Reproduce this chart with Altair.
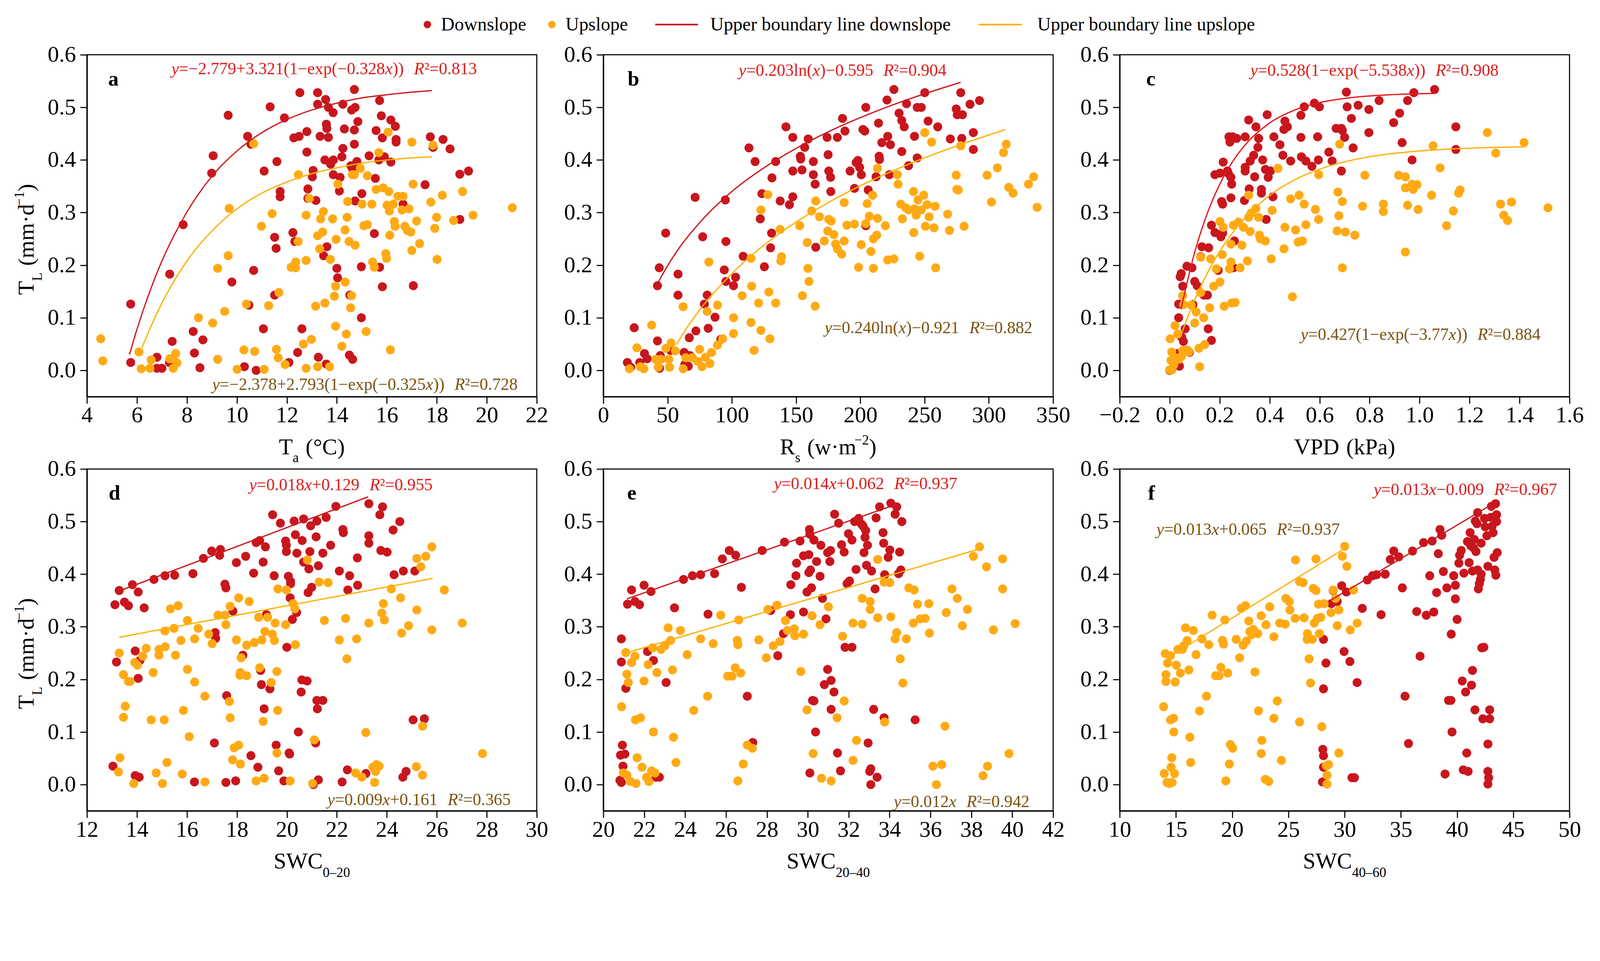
import altair as alt
import pandas as pd

FONT = "Liberation Serif"
W, H = 1250, 950
YMIN, YMAX = -0.05, 0.6

RED_PT = "#C8161D"
ORANGE_PT = "#FFAA15"
RED_LINE = "#CC1A1F"
RED_LINE_C = "#E8161B"
ORANGE_LINE = "#FFB000"
RED_TXT = "#DD1C1C"
BROWN_TXT = "#7A5512"

# ---------------- data ----------------
a_down = [(5.75,0.126),(5.75,0.015),(6.8,0.025),(6.8,0.004),(7.0,0.004),(7.3,0.015),(7.31,0.183),(7.41,0.055),
(7.85,0.277),(8.25,0.074),(8.3,0.033),(8.52,0.005),(8.64,0.058),(8.99,0.375),(9.05,0.408),(9.65,0.485),(9.8,0.168),
(10.3,0.007),(10.43,0.445),(10.56,0.430),(10.48,0.124),(10.67,0.190),(10.77,0.0),(11.06,0.079),(11.09,0.379),
(11.33,0.501),(11.51,0.253),(11.51,0.143),(11.57,0.232),(11.6,0.397),(11.73,0.340),(11.73,0.330),(11.9,0.480),
(12.08,0.015),(12.24,0.262),(12.28,0.442),(12.32,0.245),(12.43,0.034),(12.49,0.445),(12.52,0.528),(12.6,0.079),
(12.8,0.454),(12.8,0.415),(12.84,0.345),(12.84,0.327),(13.05,0.380),(13.02,0.368),(13.16,0.323),(13.23,0.528),
(13.23,0.506),(13.26,0.025),(13.33,0.445),(13.47,0.218),(13.55,0.515),(13.6,0.235),(13.58,0.012),(13.58,0.468),
(13.6,0.46),(13.66,0.443),(13.52,0.40),(13.66,0.50),(13.75,0.392),(13.85,0.49),(13.86,0.40),(13.86,0.372),
(14.0,0.194),(14.03,0.176),(14.1,0.341),(14.13,0.367),(14.2,0.406),(14.24,0.422),(14.24,0.506),(14.3,0.459),
(14.52,0.143),(14.5,0.029),(14.56,0.389),(14.59,0.495),(14.63,0.021),(14.7,0.534),(14.7,0.457),(14.7,0.430),
(14.73,0.322),(14.73,0.5),(14.8,0.397),(14.84,0.473),(14.63,0.383),(14.98,0.100),(14.98,0.197),(15.0,0.336),
(15.29,0.408),(15.5,0.260),(15.54,0.365),(15.57,0.456),(15.71,0.196),(15.71,0.513),(15.78,0.484),(15.82,0.442),
(15.82,0.159),(15.68,0.40),(15.9,0.406),(16.16,0.396),(16.16,0.476),(16.34,0.464),(16.37,0.434),(16.37,0.439),
(16.65,0.316),(17.06,0.161),(17.53,0.353),(17.74,0.444),(17.85,0.424),(18.25,0.439),(18.53,0.421),(18.92,0.373),
(18.92,0.287),(19.27,0.379)]
a_up = [(4.55,0.060),(4.63,0.018),(6.08,0.035),(6.17,0.003),(6.52,0.004),(6.57,0.020),(7.31,0.022),(7.45,0.004),
(7.45,0.022),(7.55,0.032),(7.6,0.014),(8.46,0.100),(9.03,0.090),(9.23,0.021),(9.23,0.194),(9.51,0.112),(9.65,0.218),
(9.69,0.308),(10.01,0.002),(10.28,0.039),(10.38,0.126),(10.67,0.431),(10.71,0.036),(10.98,0.274),(11.09,0.002),
(11.27,0.123),(11.41,0.298),(11.58,0.040),(11.65,0.024),(11.68,0.148),(11.93,0.011),(12.17,0.196),(12.35,0.195),
(12.35,0.206),(12.45,0.245),(12.46,0.372),(12.66,0.050),(12.77,0.004),(12.77,0.209),(12.77,0.295),(12.9,0.327),
(12.98,0.059),(13.15,0.122),(13.23,0.256),(13.23,0.007),(13.31,0.231),(13.35,0.288),(13.43,0.263),(13.46,0.302),
(13.52,0.128),(13.71,0.007),(13.74,0.211),(13.83,0.288),(13.9,0.141),(13.95,0.160),(13.95,0.084),(13.97,0.249),
(14.04,0.354),(14.2,0.046),(14.33,0.168),(14.33,0.267),(14.38,0.069),(14.41,0.291),(14.43,0.321),(14.49,0.245),
(14.55,0.119),(14.59,0.142),(14.62,0.372),(14.7,0.372),(14.73,0.238),(14.94,0.384),(15.01,0.316),(15.08,0.275),
(15.17,0.074),(15.22,0.370),(15.22,0.277),(15.4,0.316),(15.43,0.206),(15.5,0.196),(15.57,0.344),(15.68,0.414),
(15.85,0.347),(15.96,0.222),(15.99,0.213),(16.01,0.314),(16.05,0.453),(16.08,0.340),(16.1,0.303),(16.12,0.257),
(16.14,0.039),(16.26,0.316),(16.3,0.283),(16.33,0.274),(16.44,0.331),(16.61,0.305),(16.65,0.331),(16.72,0.274),
(16.82,0.266),(16.89,0.307),(16.96,0.263),(17.0,0.228),(17.0,0.434),(17.05,0.354),(17.19,0.284),(17.31,0.241),
(17.76,0.32),(17.85,0.428),(17.92,0.270),(17.99,0.291),(18.01,0.211),(18.22,0.333),(18.67,0.285),(19.03,0.340),
(19.45,0.295),(21.02,0.309)]
a_down_curve = [(5.7,0.030),(6.0,0.078),(6.5,0.148),(7.0,0.208),(7.5,0.258),(8.0,0.301),(9.0,0.369),(10.0,0.417),
(11.0,0.452),(12.0,0.477),(13.0,0.495),(14.0,0.508),(15.0,0.518),(16.0,0.524),(17.0,0.529),(17.8,0.532)]
a_up_curve = [(6.2,0.043),(6.5,0.077),(7.0,0.128),(7.5,0.171),(8.0,0.208),(9.0,0.265),(10.0,0.307),(11.0,0.337),
(12.0,0.358),(13.0,0.374),(14.0,0.385),(15.0,0.394),(16.0,0.400),(17.0,0.404),(17.8,0.406)]

b_down = [(18.7,0.015),(24.0,0.081),(21.3,0.006),(28.3,0.015),(32.0,0.032),(34.1,0.022),(42.1,0.056),(42.1,0.161),
(43.5,0.195),(43.7,0.004),(44.3,0.028),(48.5,0.261),(52.3,0.038),(58.1,0.183),(58.1,0.143),(62.9,0.034),(63.4,0.011),
(66.1,0.008),(66.9,0.062),(67.4,0.028),(71.4,0.329),(72.0,0.075),(77.3,0.254),(78.6,0.126),(80.8,0.143),(81.6,0.080),
(86.9,0.101),(91.4,0.059),(94.1,0.191),(94.9,0.324),(95.4,0.245),(95.4,0.169),(101.3,0.161),(102.9,0.177),
(108.8,0.217),(113.3,0.423),(118.1,0.397),(122.1,0.288),(123.4,0.336),(125.3,0.197),(130.1,0.233),(130.9,0.261),
(131.2,0.366),(134.1,0.397),(137.6,0.322),(142.1,0.463),(144.8,0.315),(147.4,0.443),(147.4,0.379),(147.4,0.330),
(153.3,0.407),(153.6,0.402),(154.6,0.381),(156.7,0.424),(159.4,0.44),(163.4,0.397),(163.4,0.372),(164.8,0.354),
(165.3,0.234),(174.1,0.443),(174.9,0.410),(175.4,0.379),(176.8,0.367),(177.0,0.340),(182.1,0.443),(186.1,0.479),
(188.0,0.455),(192.0,0.379),(195.4,0.346),(196.7,0.395),(198.1,0.399),(199.4,0.386),(200.7,0.372),(202.0,0.458),
(203.4,0.455),(204.2,0.5),(204.2,0.275),(206.1,0.343),(214.1,0.470),(214.6,0.407),(214.9,0.401),(212.2,0.368),
(216.7,0.433),(220.7,0.514),(221.3,0.445),(222.6,0.372),(223.4,0.429),(226.1,0.534),(230.1,0.489),(232.2,0.475),
(232.2,0.416),(234.1,0.463),(235.9,0.507),(237.5,0.389),(242.1,0.445),(244.2,0.5),(244.2,0.404),(247.4,0.5),
(250.1,0.528),(252.7,0.474),(260.2,0.463),(270.0,0.44),(274.6,0.497),(275.4,0.486),(278.1,0.528),(279.4,0.486),
(278.9,0.441),(285.3,0.506),(287.9,0.452),(287.9,0.420),(292.7,0.513)]
b_up = [(20.3,0.003),(26.1,0.043),(28.8,0.007),(31.5,0.003),(37.6,0.086),(40.8,0.021),(42.7,0.006),(44.8,0.021),
(48.8,0.042),(50.9,0.021),(51.5,0.006),(52.8,0.052),(56.0,0.037),(62.1,0.121),(62.1,0.003),(64.2,0.024),(69.3,0.024),
(73.6,0.017),(74.9,0.040),(76.8,0.007),(79.4,0.025),(80.8,0.112),(82.1,0.206),(82.9,0.013),(84.2,0.034),(88.8,0.124),
(88.8,0.048),(92.8,0.060),(101.3,0.100),(101.3,0.070),(108.0,0.142),(114.9,0.213),(114.9,0.091),(115.4,0.160),
(117.3,0.038),(120.8,0.128),(122.6,0.076),(122.6,0.305),(128.0,0.334),(128.8,0.149),(129.6,0.060),(134.1,0.128),
(137.6,0.268),(138.1,0.208),(138.6,0.216),(152.8,0.275),(154.9,0.142),(158.6,0.243),(159.2,0.194),(160.0,0.169),
(162.1,0.303),(164.8,0.122),(165.3,0.322),(168.2,0.292),(171.9,0.246),(174.6,0.265),(175.4,0.287),(177.3,0.284),
(179.4,0.258),(180.7,0.240),(182.1,0.231),(185.5,0.221),(187.4,0.246),(187.4,0.319),(189.5,0.276),(195.4,0.278),
(198.6,0.196),(200.7,0.239),(204.2,0.279),(205.3,0.317),(206.9,0.293),(208.2,0.226),(209.5,0.333),(210.1,0.250),
(210.1,0.194),(212.7,0.257),(213.3,0.289),(213.3,0.384),(219.4,0.275),(221.3,0.210),(226.1,0.212),(228.7,0.372),
(229.3,0.354),(231.4,0.316),(232.7,0.288),(235.4,0.309),(237.5,0.305),(241.3,0.340),(241.5,0.262),(242.1,0.307),
(243.4,0.295),(244.8,0.324),(246.1,0.217),(247.4,0.305),(249.3,0.333),(250.1,0.452),(250.6,0.274),(251.9,0.315),
(253.5,0.292),(255.4,0.434),(257.3,0.271),(258.1,0.312),(258.6,0.195),(267.9,0.297),(269.3,0.266),(274.6,0.371),
(275.1,0.344),(276.2,0.343),(278.1,0.427),(280.7,0.274),(298.6,0.371),(302.0,0.320),(306.6,0.385),(311.4,0.414),
(313.5,0.430),(315.4,0.348),(318.8,0.337),(330.8,0.354),(334.8,0.368),(337.5,0.310)]
b_down_curve = [(43,0.169),(50,0.199),(60,0.236),(75,0.281),(100,0.340),(125,0.385),(150,0.422),(175,0.4535),
(200,0.4805),(225,0.5045),(250,0.5258),(278,0.5475)]
b_up_curve = [(57,0.049),(65,0.081),(75,0.115),(100,0.184),(125,0.238),(150,0.282),(175,0.319),(200,0.351),
(225,0.379),(250,0.404),(280,0.431),(313,0.458)]

c_down = [(0.0,0.0),(0.039,0.008),(0.032,0.032),(0.036,0.1),(0.036,0.126),(0.042,0.178),(0.046,0.184),(0.048,0.063),
(0.052,0.160),(0.055,0.055),(0.062,0.079),(0.069,0.038),(0.069,0.198),(0.079,0.034),(0.089,0.195),(0.093,0.125),
(0.100,0.169),(0.110,0.161),(0.124,0.216),(0.129,0.235),(0.137,0.143),(0.151,0.143),(0.154,0.079),(0.156,0.233),
(0.167,0.057),(0.167,0.276),(0.181,0.372),(0.181,0.262),(0.194,0.190),(0.201,0.375),(0.205,0.254),(0.208,0.321),
(0.212,0.316),(0.212,0.261),(0.214,0.396),(0.231,0.379),(0.235,0.374),(0.237,0.444),(0.241,0.434),(0.245,0.367),
(0.245,0.328),(0.248,0.354),(0.252,0.444),(0.255,0.195),(0.259,0.246),(0.268,0.441),(0.302,0.444),(0.299,0.323),
(0.302,0.386),(0.302,0.379),(0.316,0.476),(0.318,0.345),(0.322,0.398),(0.336,0.409),(0.340,0.368),(0.345,0.463),
(0.353,0.424),(0.356,0.441),(0.367,0.344),(0.367,0.337),(0.372,0.400),(0.383,0.382),(0.386,0.287),(0.390,0.486),
(0.394,0.367),(0.403,0.379),(0.413,0.330),(0.417,0.444),(0.441,0.429),(0.453,0.409),(0.457,0.458),(0.461,0.474),
(0.471,0.463),(0.484,0.398),(0.525,0.485),(0.525,0.443),(0.527,0.406),(0.538,0.501),(0.545,0.398),(0.569,0.388),
(0.579,0.508),(0.592,0.444),(0.595,0.400),(0.599,0.501),(0.637,0.415),(0.650,0.398),(0.666,0.460),(0.687,0.460),
(0.687,0.379),(0.691,0.456),(0.700,0.443),(0.707,0.529),(0.710,0.501),(0.727,0.479),(0.734,0.423),(0.754,0.504),
(0.797,0.496),(0.797,0.452),(0.838,0.513),(0.896,0.471),(0.920,0.489),(0.930,0.433),(0.952,0.513),(0.970,0.400),
(0.977,0.528),(1.060,0.534),(1.145,0.463),(1.145,0.420)]
c_up = [(0.0,0.001),(0.002,0.060),(0.005,0.019),(0.008,0.035),(0.009,0.001),(0.016,0.010),(0.021,0.085),(0.021,0.024),
(0.032,0.069),(0.036,0.021),(0.046,0.026),(0.052,0.142),(0.052,0.038),(0.056,0.125),(0.073,0.038),(0.077,0.035),
(0.086,0.124),(0.100,0.090),(0.106,0.111),(0.120,0.007),(0.117,0.042),(0.124,0.148),(0.124,0.215),(0.136,0.1),
(0.140,0.049),(0.160,0.119),(0.164,0.212),(0.176,0.160),(0.187,0.193),(0.201,0.168),(0.201,0.283),(0.210,0.220),
(0.214,0.272),(0.218,0.122),(0.239,0.193),(0.245,0.206),(0.245,0.240),(0.248,0.128),(0.255,0.276),(0.262,0.129),
(0.275,0.282),(0.282,0.195),(0.289,0.238),(0.295,0.272),(0.311,0.208),(0.316,0.333),(0.316,0.291),(0.322,0.264),
(0.326,0.299),(0.345,0.308),(0.356,0.291),(0.359,0.257),(0.363,0.250),(0.383,0.246),(0.406,0.212),(0.410,0.304),
(0.433,0.384),(0.457,0.231),(0.461,0.272),(0.484,0.326),(0.491,0.140),(0.504,0.267),(0.514,0.244),(0.518,0.333),
(0.531,0.246),(0.538,0.316),(0.545,0.277),(0.583,0.306),(0.596,0.287),(0.596,0.372),(0.673,0.339),(0.677,0.294),
(0.670,0.265),(0.680,0.430),(0.691,0.321),(0.691,0.195),(0.703,0.263),(0.741,0.257),(0.772,0.312),(0.781,0.371),
(0.855,0.302),(0.855,0.316),(0.916,0.371),(0.943,0.368),(0.943,0.347),(0.943,0.225),(0.952,0.314),(0.970,0.354),
(0.974,0.344),(0.990,0.353),(0.994,0.306),(1.048,0.333),(1.054,0.427),(1.082,0.385),(1.108,0.275),(1.135,0.303),
(1.156,0.337),(1.162,0.343),(1.271,0.452),(1.305,0.413),(1.324,0.316),(1.337,0.295),(1.352,0.285),(1.368,0.320),
(1.418,0.433),(1.514,0.309)]
c_down_curve = [(0.045,0.116),(0.1,0.2245),(0.15,0.2979),(0.2,0.3536),(0.25,0.3957),(0.3,0.4277),(0.4,0.4703),
(0.5,0.4949),(0.6,0.5090),(0.7,0.5171),(0.8,0.5217),(0.9,0.5244),(1.06,0.5265)]
c_up_curve = [(0.05,0.0734),(0.1,0.1341),(0.15,0.1844),(0.2,0.2261),(0.3,0.2892),(0.4,0.3325),(0.5,0.3622),
(0.6,0.3825),(0.8,0.4061),(1.0,0.4171),(1.2,0.4224),(1.42,0.4250)]

d_down = [(13.04,0.035),(13.12,0.342),(13.18,0.233),(13.29,0.369),(13.5,0.347),(13.66,0.340),(13.82,0.380),(13.93,0.254),
(13.93,0.017),(14.05,0.202),(14.05,0.366),(14.09,0.014),(14.12,0.236),(14.29,0.336),(14.68,0.390),(15.12,0.397),
(15.51,0.398),(16.24,0.401),(16.3,0.005),(16.66,0.430),(16.99,0.444),(17.1,0.079),(17.13,0.289),(17.15,0.278),
(17.34,0.447),(17.31,0.436),(17.52,0.381),(17.56,0.374),(17.56,0.004),(17.59,0.169),(17.84,0.330),(17.95,0.007),
(17.98,0.422),(18.24,0.246),(18.35,0.434),(18.56,0.055),(18.67,0.402),(18.84,0.033),(18.77,0.460),(18.91,0.464),
(18.95,0.217),(18.98,0.190),(19.05,0.423),(19.09,0.144),(19.14,0.452),(19.18,0.323),(19.32,0.182),(19.43,0.513),
(19.49,0.397),(19.57,0.075),(19.67,0.026),(19.74,0.497),(19.88,0.007),(19.95,0.463),(19.98,0.455),(19.98,0.443),
(20.0,0.261),(20.06,0.396),(20.09,0.060),(20.11,0.058),(20.13,0.355),(20.15,0.386),(20.15,0.382),(20.22,0.314),
(20.29,0.501),(20.34,0.475),(20.39,0.327),(20.4,0.440),(20.46,0.100),(20.57,0.176),(20.6,0.199),(20.61,0.464),
(20.67,0.505),(20.67,0.423),(20.81,0.197),(20.85,0.365),(20.88,0.410),(20.92,0.443),(20.95,0.492),(20.99,0.375),
(21.06,0.0),(21.15,0.079),(21.17,0.471),(21.2,0.501),(21.2,0.160),(21.22,0.144),(21.26,0.416),(21.26,0.009),
(21.44,0.160),(21.44,0.440),(21.57,0.508),(21.75,0.455),(21.96,0.529),(22.1,0.406),(22.21,0.005),(22.24,0.485),
(22.26,0.479),(22.42,0.028),(22.44,0.370),(22.51,0.397),(22.82,0.431),(22.83,0.379),(23.16,0.021),(23.28,0.534),
(23.28,0.473),(23.28,0.459),(23.72,0.513),(23.76,0.445),(23.83,0.528),(24.01,0.442),(24.25,0.484),(24.29,0.399),
(24.52,0.5),(24.64,0.014),(24.66,0.406),(24.77,0.025),(25.05,0.123),(25.12,0.406),(25.5,0.125)]
d_up = [(13.26,0.024),(13.29,0.250),(13.32,0.051),(13.46,0.209),(13.46,0.128),(13.53,0.149),(13.66,0.196),(13.73,0.196),
(13.87,0.002),(13.91,0.232),(14.02,0.227),(14.23,0.244),(14.37,0.259),(14.57,0.123),(14.65,0.213),(14.77,0.022),
(14.88,0.246),(14.88,0.257),(15.02,0.002),(15.09,0.123),(15.12,0.292),(15.13,0.262),(15.2,0.042),(15.34,0.334),
(15.48,0.297),(15.54,0.246),(15.65,0.340),(15.76,0.274),(15.81,0.020),(15.86,0.141),(16.02,0.312),(16.02,0.219),
(16.09,0.091),(16.31,0.195),(16.31,0.277),(16.45,0.297),(16.72,0.168),(16.72,0.005),(16.87,0.286),(17.01,0.268),
(17.24,0.322),(17.52,0.322),(17.56,0.304),(17.7,0.158),(17.73,0.127),(17.73,0.339),(17.83,0.047),(17.89,0.070),
(17.98,0.275),(18.07,0.355),(18.07,0.075),(18.12,0.208),(18.14,0.039),(18.17,0.241),(18.14,0.213),(18.39,0.265),
(18.39,0.207),(18.49,0.348),(18.7,0.270),(18.77,0.007),(18.87,0.318),(18.91,0.222),(19.0,0.275),(19.05,0.120),
(19.09,0.012),(19.12,0.291),(19.23,0.318),(19.37,0.194),(19.42,0.286),(19.5,0.274),(19.53,0.307),(19.6,0.060),
(19.6,0.215),(19.63,0.141),(19.64,0.372),(19.95,0.304),(19.98,0.370),(20.13,0.007),(20.25,0.344),(20.32,0.334),
(20.34,0.266),(20.82,0.427),(21.03,0.002),(21.1,0.085),(21.29,0.385),(21.5,0.312),(21.65,0.384),(22.1,0.275),
(22.35,0.316),(22.4,0.239),(22.75,0.022),(22.79,0.277),(23.0,0.014),(23.16,0.099),(23.28,0.307),(23.44,0.033),
(23.51,0.004),(23.55,0.025),(23.58,0.038),(23.69,0.035),(23.8,0.326),(23.86,0.344),(23.9,0.313),(24.18,0.372),
(24.55,0.355),(24.59,0.288),(24.87,0.302),(25.18,0.034),(25.2,0.332),(25.2,0.430),(25.36,0.414),(25.43,0.111),
(25.43,0.018),(25.56,0.434),(25.8,0.452),(25.8,0.294),(26.3,0.370),(27.02,0.307),(27.83,0.059)]
d_down_line = [(13.29,0.368),(23.25,0.547)]
d_up_line = [(13.29,0.280),(25.84,0.392)]

e_down = [(20.81,0.008),(20.88,0.277),(20.88,0.233),(20.84,0.056),(20.93,0.075),(20.96,0.035),(21.05,0.058),(20.88,0.004),
(21.1,0.183),(21.18,0.343),(21.38,0.370),(21.55,0.348),(21.77,0.342),(21.99,0.379),(22.16,0.253),(22.33,0.367),
(22.45,0.236),(22.57,0.014),(22.74,0.014),(23.07,0.194),(23.48,0.336),(23.92,0.390),(24.36,0.397),(24.76,0.399),
(25.12,0.324),(25.44,0.401),(25.82,0.429),(26.16,0.445),(26.47,0.436),(26.75,0.375),(27.04,0.168),(27.31,0.080),
(27.77,0.445),(28.19,0.331),(28.53,0.245),(28.86,0.461),(28.81,0.287),(29.15,0.323),(29.17,0.380),(29.42,0.397),
(29.45,0.421),(29.62,0.463),(29.79,0.435),(29.79,0.328),(29.96,0.366),(30.05,0.437),(30.05,0.403),(30.08,0.485),
(30.1,0.476),(30.1,0.022),(30.13,0.408),(30.18,0.374),(30.23,0.160),(30.3,0.159),(30.3,0.465),(30.38,0.100),
(30.43,0.424),(30.6,0.396),(30.64,0.455),(30.72,0.354),(30.81,0.190),(30.89,0.315),(30.97,0.219),(30.97,0.441),
(31.08,0.424),(31.11,0.445),(31.14,0.198),(31.14,0.143),(31.28,0.176),(31.31,0.514),(31.45,0.060),(31.51,0.497),
(31.6,0.026),(31.65,0.456),(31.78,0.442),(31.82,0.261),(31.92,0.382),(31.99,0.477),(32.04,0.387),(32.16,0.261),
(32.16,0.465),(32.29,0.500),(32.36,0.409),(32.49,0.506),(32.63,0.495),(32.71,0.491),(32.75,0.441),(32.8,0.470),
(32.83,0.483),(32.87,0.417),(32.92,0.455),(32.95,0.079),(33.03,0.025),(33.08,0.030),(33.08,0.0),(33.12,0.406),
(33.29,0.372),(33.34,0.507),(33.39,0.014),(33.22,0.143),(33.51,0.528),(33.68,0.479),(33.71,0.459),(33.73,0.127),
(33.76,0.399),(33.93,0.432),(34.01,0.446),(34.06,0.535),(34.27,0.514),(34.35,0.528),(34.44,0.401),(34.49,0.442),
(34.55,0.408),(34.6,0.500),(35.25,0.123)]
e_up = [(20.89,0.148),(20.98,0.022),(21.1,0.251),(21.15,0.018),(21.15,0.210),(21.22,0.194),(21.32,0.006),(21.38,0.232),
(21.55,0.244),(21.57,0.123),(21.6,0.002),(21.65,0.051),(21.82,0.127),(21.89,0.033),(21.99,0.197),(22.11,0.014),
(22.23,0.006),(22.19,0.228),(22.36,0.026),(22.41,0.260),(22.45,0.100),(22.53,0.022),(22.62,0.213),(22.82,0.257),
(23.01,0.264),(23.17,0.298),(23.29,0.274),(23.38,0.218),(23.43,0.090),(23.55,0.042),(23.77,0.293),(24.1,0.247),
(24.42,0.141),(24.76,0.277),(25.1,0.168),(25.37,0.268),(25.74,0.322),(26.08,0.206),(26.3,0.206),(26.45,0.222),
(26.55,0.274),(26.58,0.007),(26.58,0.266),(26.62,0.313),(26.72,0.212),(26.84,0.039),(27.04,0.075),(27.29,0.069),
(27.6,0.275),(27.97,0.241),(28.05,0.333),(28.31,0.264),(28.49,0.341),(28.64,0.272),(28.91,0.312),(29.0,0.293),
(29.34,0.296),(29.37,0.283),(29.66,0.215),(29.79,0.286),(29.96,0.142),(30.21,0.321),(30.26,0.059),(30.6,0.304),
(30.67,0.012),(31.01,0.338),(31.14,0.007),(31.43,0.127),(31.7,0.282),(31.78,0.159),(32.21,0.046),(32.21,0.307),
(32.38,0.084),(32.66,0.305),(32.66,0.354),(33.05,0.348),(33.05,0.333),(33.42,0.428),(33.42,0.317),(33.73,0.385),
(33.76,0.119),(34.01,0.384),(34.06,0.319),(34.27,0.277),(34.35,0.289),(34.52,0.239),(34.65,0.193),(34.82,0.277),
(34.94,0.374),(35.16,0.307),(35.2,0.370),(35.36,0.343),(35.5,0.315),(35.74,0.316),(35.92,0.344),(35.95,0.288),
(36.12,0.035),(36.29,0.0),(36.55,0.038),(36.71,0.111),(36.77,0.327),(37.05,0.372),(37.31,0.354),(37.56,0.302),
(37.81,0.333),(38.1,0.434),(38.4,0.452),(38.57,0.017),(38.74,0.414),(38.79,0.035),(39.08,0.294),(39.53,0.372),
(39.53,0.429),(39.84,0.059),(40.14,0.306)]
e_down_line = [(21.15,0.353),(34.27,0.532)]
e_up_line = [(21.18,0.251),(38.4,0.448)]

f_up = [(13.9,0.148),(13.96,0.021),(14.05,0.249),(14.11,0.196),(14.11,0.209),(14.2,0.004),(14.26,0.231),(14.42,0.002),
(14.51,0.245),(14.51,0.123),(14.57,0.033),(14.63,0.051),(14.66,0.004),(14.78,0.126),(14.81,0.1),(14.87,0.021),
(14.93,0.195),(15.03,0.227),(15.18,0.257),(15.39,0.212),(15.57,0.257),(15.7,0.264),(15.85,0.298),(16.0,0.274),
(16.15,0.218),(16.24,0.090),(16.31,0.042),(16.55,0.293),(16.79,0.247),(17.1,0.140),(17.31,0.277),(17.71,0.168),
(17.92,0.266),(18.22,0.322),(18.53,0.207),(18.83,0.207),(18.99,0.223),(19.14,0.274),(19.23,0.267),(19.35,0.313),
(19.44,0.007),(19.6,0.212),(19.75,0.039),(19.84,0.076),(20.05,0.069),(20.36,0.276),(20.66,0.241),(20.81,0.335),
(20.97,0.265),(21.18,0.340),(21.27,0.273),(21.48,0.311),(21.57,0.291),(21.73,0.285),(21.88,0.295),(22.03,0.214),
(22.28,0.287),(22.34,0.140),(22.58,0.321),(22.64,0.084),(22.58,0.059),(22.95,0.010),(23.01,0.304),(23.25,0.006),
(23.34,0.338),(23.71,0.281),(23.71,0.126),(24.01,0.159),(24.22,0.307),(24.38,0.046),(24.71,0.305),(24.77,0.354),
(25.08,0.348),(25.14,0.332),(25.6,0.316),(25.63,0.427),(25.99,0.119),(25.99,0.386),(26.3,0.384),(26.39,0.317),
(26.66,0.276),(26.69,0.287),(26.84,0.239),(26.97,0.193),(27.12,0.276),(27.21,0.373),(27.3,0.307),(27.45,0.369),
(27.45,0.429),(27.58,0.316),(27.67,0.343),(27.76,0.287),(27.97,0.110),(27.88,0.318),(28.18,0.344),(28.37,0.036),
(28.43,0.018),(28.43,0.001),(28.58,0.038),(28.79,0.327),(28.98,0.370),(29.19,0.354),(29.49,0.332),(29.49,0.060),
(29.34,0.302),(29.8,0.434),(30.01,0.453),(30.2,0.415),(30.5,0.294),(30.8,0.370),(31.11,0.307)]
f_down = [(28.03,0.005),(28.06,0.067),(28.12,0.055),(28.12,0.033),(28.12,0.182),(28.12,0.276),(28.34,0.231),(28.82,0.344),
(28.98,0.369),(29.34,0.348),(29.74,0.378),(29.95,0.253),(30.16,0.366),(30.47,0.234),(30.65,0.013),(30.87,0.013),
(31.11,0.194),(31.57,0.335),(32.02,0.389),(32.48,0.397),(32.84,0.399),(33.24,0.323),(33.61,0.400),(34.06,0.428),
(34.37,0.444),(34.82,0.433),(35.13,0.374),(35.37,0.168),(35.68,0.078),(36.04,0.444),(36.41,0.329),(36.71,0.244),
(37.02,0.460),(37.26,0.322),(37.57,0.397),(37.78,0.463),(37.93,0.328),(38.18,0.365),(38.33,0.439),(38.48,0.485),
(38.63,0.474),(38.78,0.405),(38.93,0.020),(39.09,0.374),(39.24,0.160),(39.45,0.160),(39.48,0.286),(39.55,0.1),
(39.7,0.397),(39.85,0.379),(39.85,0.353),(40.0,0.314),(40.16,0.421),(40.22,0.436),(40.37,0.445),(40.46,0.197),
(40.55,0.028),(40.61,0.402),(40.76,0.176),(40.86,0.060),(40.92,0.462),(40.98,0.025),(41.07,0.422),(41.16,0.479),
(41.22,0.454),(41.28,0.189),(41.37,0.217),(41.37,0.406),(41.46,0.450),(41.53,0.466),(41.59,0.142),(41.62,0.501),
(41.68,0.443),(41.77,0.496),(41.83,0.517),(41.83,0.408),(41.89,0.372),(41.98,0.382),(42.07,0.390),(42.14,0.400),
(42.14,0.459),(42.2,0.260),(42.29,0.125),(42.38,0.261),(42.44,0.506),(42.5,0.490),(42.65,0.473),(42.74,0.077),
(42.74,0.001),(42.74,0.025),(42.81,0.013),(42.74,0.415),(42.9,0.142),(42.9,0.125),(42.99,0.508),(43.05,0.529),
(43.11,0.491),(43.2,0.479),(43.29,0.432),(43.35,0.408),(43.42,0.534),(43.45,0.398),(43.51,0.513),(43.51,0.500),
(43.57,0.441)]
f_up_line = [(14.57,0.245),(29.95,0.448)]
f_down_line = [(28.73,0.350),(43.05,0.532)]

# ---------------- text layout helpers ----------------
EM = {'0':.5,'1':.5,'2':.5,'3':.5,'4':.5,'5':.5,'6':.5,'7':.5,'8':.5,'9':.5,'.':.25,'=':.564,'+':.564,
      '\u2212':.564,'(':.333,')':.333,'e':.444,'x':.5,'p':.5,'l':.278,'n':.5,' ':.25,'\u00b2':.3,'y':.5,
      'R':.667,'T':.611,'a':.444,'s':.389,'L':.611,'\u00b0':.4,'C':.667,'w':.722,'\u00b7':.25,'m':.778,
      'V':.722,'P':.556,'D':.722,'k':.5,'S':.556,'W':.944,'\u2013':.5,'d':.5,'o':.5,'u':.5,'U':.722,
      'b':.5,'i':.278,'r':.333}
EM_I = {'y':.444,'x':.444,'R':.611}
SPACE = 0.3


def twidth(s, size, style):
    t = 0.0
    for ch in s:
        if ch == ' ':
            t += SPACE
        elif style == 'i' and ch in EM_I:
            t += EM_I[ch]
        else:
            t += EM.get(ch, 0.5)
    return t * size


def eq_pieces(s, size):
    out = []
    italic = False
    for part in s.split('*'):
        if part:
            out.append((part, 'i' if italic else 'n', size, 0))
        italic = not italic
    return out


def layout_h(pieces, x0, y0, color, anchor='left'):
    total = sum(twidth(t, sz, st) for t, st, sz, dy in pieces)
    if anchor == 'center':
        x0 -= total / 2
    rows = []
    cx = x0
    for t, st, sz, dy in pieces:
        lead = len(t) - len(t.lstrip(' '))
        rows.append(dict(px=cx + lead * SPACE * sz, py=y0 + dy, text=t.strip(' '), size=sz, style=st, color=color))
        cx += twidth(t, sz, st)
    return rows


def layout_v(pieces, x0, y0, color):
    rows = []
    cy = y0
    for t, st, sz, dy in pieces:
        lead = len(t) - len(t.lstrip(' '))
        rows.append(dict(px=x0 + dy, py=cy - lead * SPACE * sz, text=t.strip(' '), size=sz, style='r', color=color))
        cy -= twidth(t, sz, st)
    return rows


EQ = 47
LAB = 63
SUB = 38
YT = [0.0, 0.1, 0.2, 0.3, 0.4, 0.5, 0.6]


def pts(lst):
    return pd.DataFrame(lst, columns=['x', 'y'])


def panel(xdom, xticks, xfmt, down, up, dcurve, ucurve, dline_color, rows, smooth, legend=None):
    xmin, xmax = xdom
    xs = alt.Scale(domain=list(xdom), nice=False, zero=False)
    ys = alt.Scale(domain=[YMIN, YMAX], nice=False, zero=False)
    X = alt.X('x:Q', scale=xs, axis=alt.Axis(values=xticks, format=xfmt, title=None,
                                             labelFlush=False, labelOverlap=False, labelPadding=2))
    Y = alt.Y('y:Q', scale=ys, axis=alt.Axis(values=YT, format='.1f', title=None, labelPadding=12))

    def conv(rs):
        df = pd.DataFrame(rs)
        df['x'] = xmin + df['px'] * (xmax - xmin) / W
        df['y'] = YMAX - df['py'] * (YMAX - YMIN) / H
        return df

    layers = [
        alt.Chart(pts(down)).mark_circle(size=620, opacity=1, color=RED_PT).encode(x=X, y=Y),
        alt.Chart(pts(up)).mark_circle(size=620, opacity=1, color=ORANGE_PT).encode(x=X, y=Y),
    ]
    interp = 'monotone' if smooth else 'linear'
    layers.append(alt.Chart(pts(dcurve)).mark_line(color=dline_color, strokeWidth=3.5, interpolate=interp)
                  .encode(x=X, y=Y, order='x:Q'))
    layers.append(alt.Chart(pts(ucurve)).mark_line(color=ORANGE_LINE, strokeWidth=3.5, interpolate=interp)
                  .encode(x=X, y=Y, order='x:Q'))

    if legend is not None:
        lp, lr = legend
        layers.append(alt.Chart(conv(lp)).mark_circle(size=430, opacity=1)
                      .encode(x=X, y=Y, color=alt.Color('color:N', scale=None)))
        dfr = conv(lr)
        dfr['x2'] = xmin + dfr['px2'] * (xmax - xmin) / W
        layers.append(alt.Chart(dfr).mark_rule(strokeWidth=4.5)
                      .encode(x=X, x2='x2:Q', y=Y, color=alt.Color('color:N', scale=None)))

    df = conv(rows)
    for st, kw in [('n', {}), ('i', {'fontStyle': 'italic'}), ('b', {'fontWeight': 'bold'}),
                   ('r', {'angle': 270})]:
        sub = df[df['style'] == st]
        if len(sub):
            layers.append(alt.Chart(sub).mark_text(align='left', baseline='alphabetic', font=FONT, **kw)
                          .encode(x=X, y=Y, text='text:N', size=alt.Size('size:Q', scale=None),
                                  color=alt.Color('color:N', scale=None)))
    return alt.layer(*layers).properties(width=W, height=H)


XT_Y = 1110


def ytitle():
    return layout_v([('T', 'n', LAB, 0), ('L', 'n', SUB, 22), (' (mm\u00b7d', 'n', LAB, 0),
                     ('\u22121', 'n', SUB, -27), (')', 'n', LAB, 0)], -148, 667, 'black')


def xtitle(pieces):
    return layout_h(pieces, W / 2, XT_Y, 'black', anchor='center')


def letter(ch, x):
    return layout_h([(ch, 'b', 58, 0)], x, 85, 'black', anchor='center')


# panel a
rows_a = (layout_h(eq_pieces('*y*=\u22122.779+3.321(1\u2212exp(\u22120.328*x*))  *R*\u00b2=0.813', EQ), 235, 54, RED_TXT)
          + layout_h(eq_pieces('*y*=\u22122.378+2.793(1\u2212exp(\u22120.325*x*))  *R*\u00b2=0.728', EQ), 348, 931, BROWN_TXT)
          + letter('a', 72) + ytitle()
          + xtitle([('T', 'n', LAB, 0), ('a', 'n', SUB, 22), (' (\u00b0C)', 'n', LAB, 0)]))
LEG = 52
LY = -84
leg_rows = (layout_h([('Downslope', 'n', LEG, 0)], 984, LY + 17, 'black')
            + layout_h([('Upslope', 'n', LEG, 0)], 1330, LY + 17, 'black')
            + layout_h([('Upper boundary line downslope', 'n', LEG, 0)], 1732, LY + 17, 'black')
            + layout_h([('Upper boundary line upslope', 'n', LEG, 0)], 2641, LY + 17, 'black'))
rows_a += leg_rows
leg_pts = [dict(px=946, py=LY, color=RED_PT), dict(px=1292, py=LY, color=ORANGE_PT)]
leg_rules = [dict(px=1579, px2=1698, py=LY, color=RED_LINE), dict(px=2478, px2=2598, py=LY, color=ORANGE_LINE)]

pa = panel((4, 22), list(range(4, 23, 2)), 'd', a_down, a_up, a_down_curve, a_up_curve, RED_LINE, rows_a, True,
           legend=(leg_pts, leg_rules))

rows_b = (layout_h(eq_pieces('*y*=0.203ln(*x*)\u22120.595  *R*\u00b2=0.904', EQ), 376, 58, RED_TXT)
          + layout_h(eq_pieces('*y*=0.240ln(*x*)\u22120.921  *R*\u00b2=0.882', EQ), 615, 774, BROWN_TXT)
          + letter('b', 82)
          + xtitle([('R', 'n', LAB, 0), ('s', 'n', SUB, 22), (' (w\u00b7m', 'n', LAB, 0), ('\u22122', 'n', SUB, -27),
                    (')', 'n', LAB, 0)]))
pb = panel((0, 350), list(range(0, 351, 50)), 'd', b_down, b_up, b_down_curve, b_up_curve, RED_LINE, rows_b, True)

rows_c = (layout_h(eq_pieces('*y*=0.528(1\u2212exp(\u22125.538*x*))  *R*\u00b2=0.908', EQ), 363, 58, RED_TXT)
          + layout_h(eq_pieces('*y*=0.427(1\u2212exp(\u22123.77*x*))  *R*\u00b2=0.884', EQ), 503, 792, BROWN_TXT)
          + letter('c', 88)
          + xtitle([('VPD', 'n', LAB, 0), (' (kPa)', 'n', LAB, 0)]))
pc = panel((-0.2, 1.6), [-0.2, 0.0, 0.2, 0.4, 0.6, 0.8, 1.0, 1.2, 1.4, 1.6], '.1f', c_down, c_up, c_down_curve,
           c_up_curve, RED_LINE_C, rows_c, True)

rows_d = (layout_h(eq_pieces('*y*=0.018*x*+0.129  *R*\u00b2=0.955', EQ), 451, 59, RED_TXT)
          + layout_h(eq_pieces('*y*=0.009*x*+0.161  *R*\u00b2=0.365', EQ), 668, 934, BROWN_TXT)
          + letter('d', 75) + ytitle()
          + xtitle([('SWC', 'n', LAB, 0), ('0\u201320', 'n', SUB, 24)]))
pd_ = panel((12, 30), list(range(12, 31, 2)), 'd', d_down, d_up, d_down_line, d_up_line, RED_LINE, rows_d, False)

rows_e = (layout_h(eq_pieces('*y*=0.014*x*+0.062  *R*\u00b2=0.937', EQ), 474, 56, RED_TXT)
          + layout_h(eq_pieces('*y*=0.012*x*  *R*\u00b2=0.942', EQ), 807, 939, BROWN_TXT)
          + letter('e', 79)
          + xtitle([('SWC', 'n', LAB, 0), ('20\u201340', 'n', SUB, 24)]))
pe = panel((20, 42), list(range(20, 43, 2)), 'd', e_down, e_up, e_down_line, e_up_line, RED_LINE, rows_e, False)

rows_f = (layout_h(eq_pieces('*y*=0.013*x*\u22120.009  *R*\u00b2=0.967', EQ), 706, 72, RED_TXT)
          + layout_h(eq_pieces('*y*=0.013*x*+0.065  *R*\u00b2=0.937', EQ), 102, 183, BROWN_TXT)
          + letter('f', 93)
          + xtitle([('SWC', 'n', LAB, 0), ('40\u201360', 'n', SUB, 24)]))
pf = panel((10, 50), list(range(10, 51, 5)), 'd', f_down, f_up, f_down_line, f_up_line, RED_LINE, rows_f, False)

# page: 4445 x 2460 with an 8px margin -> drawing area 4429 x 2444.
# The grid layout sets the first row about 102px below its origin, so the top padding allows for that.
PAD_L, PAD_T = 233, 39
chart = alt.concat(pa, pb, pc, pd_, pe, pf, columns=3, spacing={"row": 201, "column": 185}, bounds="flush")
chart = chart.properties(
    autosize=alt.AutoSizeParams(type="none"),
    padding={"left": PAD_L, "top": PAD_T, "right": 4429 - PAD_L, "bottom": 2444 - PAD_T},
).configure(
    background='white', font=FONT
).configure_view(stroke='black', strokeWidth=3).configure_axis(
    labelFont=FONT, labelFontSize=LAB, labelColor='black', domainColor='black', domainWidth=3.5,
    tickColor='black', tickWidth=3, tickSize=19, grid=False
)

chart.save("out.html", embed_options={"renderer": "svg", "actions": False})
